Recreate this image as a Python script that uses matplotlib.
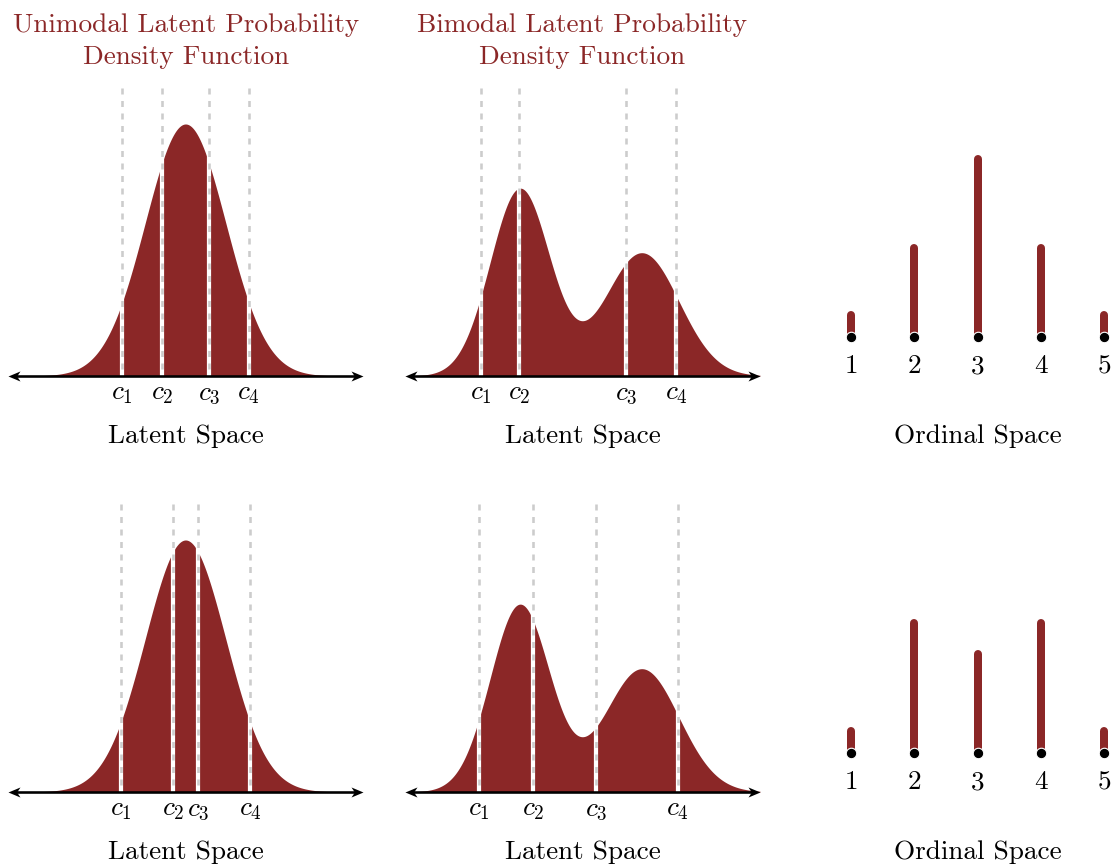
import numpy as np
import matplotlib
matplotlib.use("Agg")
import matplotlib.pyplot as plt
from matplotlib.path import Path

plt.rcParams['font.family'] = 'cmr10'
plt.rcParams['mathtext.fontset'] = 'cm'
plt.rcParams['axes.formatter.use_mathtext'] = True
plt.rcParams['lines.scale_dashes'] = False

# ---------------------------------------------------------------- data
latent_limits = (-4.4, 4.4)

unimodal_mean = 0.0
unimodal_sd = 1.0

bimodal_weights = [0.55, 0.45]
bimodal_means = [-1.55, 1.47]
bimodal_sds = [0.74, 0.92]

cuts_unimodal_top = [-1.57, -0.58, 0.58, 1.57]
cuts_bimodal_top = [-2.52, -1.57, 1.08, 2.32]
cuts_unimodal_bottom = [-1.60, -0.31, 0.31, 1.60]
cuts_bimodal_bottom = [-2.56, -1.23, 0.33, 2.36]
cut_labels = [r'$c_1$', r'$c_2$', r'$c_3$', r'$c_4$']

ordinal_levels = [1, 2, 3, 4, 5]
ordinal_probs_top = [0.055, 0.22, 0.44, 0.22, 0.055]
ordinal_probs_bottom = [0.055, 0.32, 0.245, 0.32, 0.055]

titles = [("Unimodal Latent Probability", "Density Function"),
          ("Bimodal Latent Probability", "Density Function")]

# ---------------------------------------------------------------- style
RED = '#8B2727'
GREY = '#cccccc'
FS = 19.6
W, H = 1116, 867
PX = 72 / 100  # points per pixel

fig = plt.figure(figsize=(W / 100, H / 100), dpi=100)


def px_axes(x0, x1, ytop, ybot):
    return fig.add_axes([x0 / W, 1 - ybot / H, (x1 - x0) / W, (ybot - ytop) / H])


def normal_pdf(x, m, s):
    return np.exp(-0.5 * ((x - m) / s) ** 2) / (s * np.sqrt(2 * np.pi))


def unimodal(x):
    return normal_pdf(x, unimodal_mean, unimodal_sd)


def bimodal(x):
    return sum(w * normal_pdf(x, m, s)
               for w, m, s in zip(bimodal_weights, bimodal_means, bimodal_sds))


def stealth_path(direction):
    v = np.array([[0, 0], [-1, 0.42], [-0.72, 0], [-1, -0.42], [0, 0]], float)
    v[:, 0] *= direction
    return Path(v, [Path.MOVETO, Path.LINETO, Path.LINETO, Path.LINETO, Path.CLOSEPOLY])


def latent_panel(x0, x1, ytop, ybot, pdf, cuts):
    ax = px_axes(x0, x1, ytop, ybot)
    dens_scale = 631.7  # pixels per density unit
    ax.set_xlim(*latent_limits)
    ax.set_ylim(0, (ybot - ytop) / dens_scale)
    ax.axis('off')
    x = np.linspace(latent_limits[0], latent_limits[1], 1500)
    ax.fill_between(x, 0, pdf(x), color=RED, lw=0, zorder=1)
    for c, lab in zip(cuts, cut_labels):
        ax.axvline(c, ymin=0, ymax=1, color='white', lw=4.2 * PX, zorder=2)
        ax.axvline(c, ymin=1, ymax=0, color=GREY, lw=2.6 * PX,
                   ls=(0, (6 * PX, 6.5 * PX)), zorder=3)
        ax.annotate(lab, xy=(c, 0), xytext=(0, -23 * PX), textcoords='offset points',
                    ha='center', va='baseline', fontsize=FS, annotation_clip=False)
    lo, hi = latent_limits
    ax.plot([lo + 0.2, hi - 0.2], [0, 0], color='black', lw=2.6 * PX,
            solid_capstyle='butt', zorder=4, clip_on=False)
    ax.plot([hi], [0], marker=stealth_path(1), ms=24 * PX, color='black',
            mew=0, zorder=5, clip_on=False)
    ax.plot([lo], [0], marker=stealth_path(-1), ms=24 * PX, color='black',
            mew=0, zorder=5, clip_on=False)
    ax.annotate("Latent Space", xy=(0.5, 0), xycoords='axes fraction',
                xytext=(0, -67 * PX), textcoords='offset points',
                ha='center', va='baseline', fontsize=FS, annotation_clip=False)
    return ax


def ordinal_panel(ytop, ybot, probs):
    step = 63.25
    left, right = 830, 1116
    ax = px_axes(left, right, ytop, ybot)
    ax.set_xlim(1 - (851 - left) / step, 5 + (right - 1104) / step)
    ax.set_ylim(0, (ybot - ytop) / 405.0)
    ax.axis('off')
    ax.vlines(ordinal_levels, 0, probs, colors=RED, lw=8 * PX,
              capstyle='round', zorder=2, clip_on=False)
    ax.scatter(ordinal_levels, [0] * len(ordinal_levels), s=(10.5 * PX) ** 2,
               c='black', edgecolors='white', linewidths=0.8, zorder=3, clip_on=False)
    for k in ordinal_levels:
        ax.annotate(str(k), xy=(k, 0), xytext=(0, -36 * PX), textcoords='offset points',
                    ha='center', va='baseline', fontsize=FS, annotation_clip=False)
    ax.annotate("Ordinal Space", xy=(3, 0), xytext=(0, -106 * PX),
                textcoords='offset points', ha='center', va='baseline',
                fontsize=FS, annotation_clip=False)
    return ax


row_shift = 416
for r, (cu, cb, probs) in enumerate([
        (cuts_unimodal_top, cuts_bimodal_top, ordinal_probs_top),
        (cuts_unimodal_bottom, cuts_bimodal_bottom, ordinal_probs_bottom)]):
    dy = r * row_shift
    latent_panel(8, 363, 88 + dy, 376 + dy, unimodal, cu)
    latent_panel(405, 760, 88 + dy, 376 + dy, bimodal, cb)
    ordinal_panel(140 + dy, 337 + dy, probs)

# panel titles
for xc, (l1, l2) in zip([186, 582], titles):
    fig.text(xc / W, 1 - 32 / H, l1, ha='center', va='baseline', fontsize=FS, color=RED)
    fig.text(xc / W, 1 - 64 / H, l2, ha='center', va='baseline', fontsize=FS, color=RED)

fig.savefig('out.png', dpi=100, facecolor='white')
